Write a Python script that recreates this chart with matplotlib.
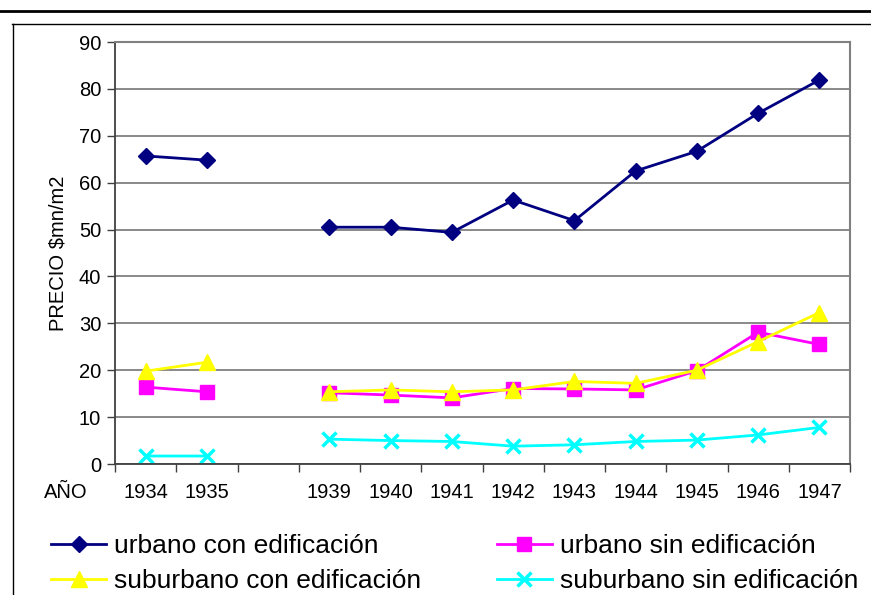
import numpy as np
import matplotlib
matplotlib.use('Agg')
import matplotlib.pyplot as plt
from matplotlib.lines import Line2D

plt.rcParams['font.family'] = ['Liberation Sans', 'DejaVu Sans']

# datos
anios = ['1934', '1935', '', '1939', '1940', '1941', '1942', '1943', '1944', '1945', '1946', '1947']
urbano_con = [65.7, 64.8, np.nan, 50.5, 50.5, 49.4, 56.3, 51.9, 62.5, 66.7, 74.8, 81.9]
urbano_sin = [16.4, 15.4, np.nan, 15.2, 14.7, 14.1, 16.1, 16.0, 15.8, 19.9, 28.1, 25.5]
suburbano_con = [19.8, 21.7, np.nan, 15.4, 15.8, 15.4, 15.8, 17.6, 17.2, 20.0, 26.1, 32.3]
suburbano_sin = [1.7, 1.7, np.nan, 5.3, 5.0, 4.8, 3.8, 4.1, 4.8, 5.1, 6.2, 7.8]

fig = plt.figure(figsize=(8.71, 5.95), dpi=100)
ax = fig.add_axes([115/871, 1-464/595, 735/871, 422/595])

x = np.arange(len(anios))
l1, = ax.plot(x, urbano_con, color='#000080', lw=2, marker='D', ms=8, label='urbano con edificación')
l2, = ax.plot(x, urbano_sin, color='#FF00FF', lw=2, marker='s', ms=10, label='urbano sin edificación')
l3, = ax.plot(x, suburbano_con, color='#FFFF00', lw=2, marker='^', ms=11, label='suburbano con edificación')
l4, = ax.plot(x, suburbano_sin, color='#00FFFF', lw=2, marker='x', ms=10, mew=2.5, label='suburbano sin edificación')

ax.set_xlim(-0.5, len(anios) - 0.5)
ax.set_ylim(0, 90)
ax.set_yticks(range(0, 91, 10))
ax.yaxis.grid(True, color='#808080', lw=1.3)
ax.set_axisbelow(True)

# ticks entre categorias, etiquetas centradas
ax.set_xticks(np.arange(-0.5, len(anios), 1))
ax.set_xticklabels([])
ax.set_xticks(x, minor=True)
ax.set_xticklabels(anios, minor=True)
ax.tick_params(axis='x', which='minor', length=0, pad=14, labelsize=14.5)
ax.tick_params(axis='x', which='major', length=6, width=1, color='#404040')
ax.tick_params(axis='y', length=6, width=1, color='#404040', labelsize=14.5, pad=4)

for s in ['left', 'bottom']:
    ax.spines[s].set_color('#404040')
    ax.spines[s].set_linewidth(1.3)
for s in ['top', 'right']:
    ax.spines[s].set_color('#808080')
    ax.spines[s].set_linewidth(1.5)

ax.set_ylabel('PRECIO \\$mn/m2', fontsize=14.5, labelpad=8)
fig.text(66/871, 1-493/595, 'AÑO', fontsize=14.5, ha='center', va='center')

# marco
fig.add_artist(Line2D([0, 1], [1-11/595, 1-11/595], color='black', lw=2))
fig.add_artist(Line2D([12/871, 1], [1-23.5/595, 1-23.5/595], color='black', lw=1))
fig.add_artist(Line2D([12.5/871, 12.5/871], [0, 1-23.5/595], color='black', lw=1))

fig.legend(handles=[l1, l3, l2, l4], loc='upper left', bbox_to_anchor=(51/871, 1-534/595),
           ncol=2, frameon=False, fontsize=19, handlelength=2.1, handletextpad=0.3,
           columnspacing=2.85, labelspacing=0.42, borderpad=0, borderaxespad=0)

fig.savefig('out.png', dpi=100)
